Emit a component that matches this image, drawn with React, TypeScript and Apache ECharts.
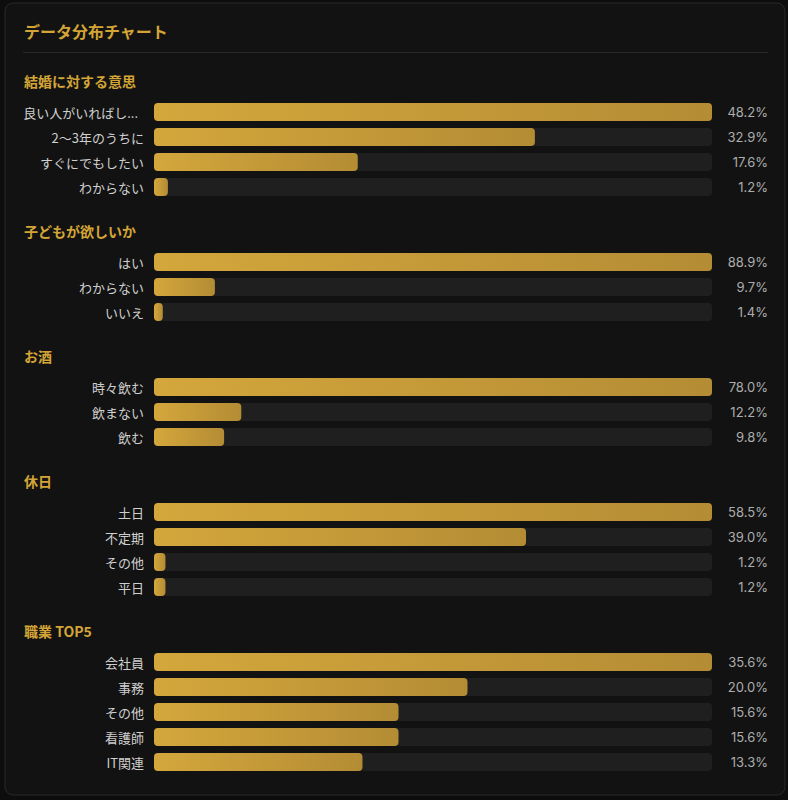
import React, { useEffect, useRef } from "react";
import * as echarts from "echarts";

const chartTitle = "データ分布チャート";

const sectionTitles = ["結婚に対する意思", "子どもが欲しいか", "お酒", "休日", "職業 TOP5"];

const marriageLabels = ["良い人がいればし...", "2〜3年のうちに", "すぐにでもしたい", "わからない"];
const marriageValues = [48.2, 32.9, 17.6, 1.2];

const childLabels = ["はい", "わからない", "いいえ"];
const childValues = [88.9, 9.7, 1.4];

const alcoholLabels = ["時々飲む", "飲まない", "飲む"];
const alcoholValues = [78.0, 12.2, 9.8];

const holidayLabels = ["土日", "不定期", "その他", "平日"];
const holidayValues = [58.5, 39.0, 1.2, 1.2];

const jobLabels = ["会社員", "事務", "その他", "看護師", "IT関連"];
const jobValues = [35.6, 20.0, 15.6, 15.6, 13.3];

const sectionLabels = [marriageLabels, childLabels, alcoholLabels, holidayLabels, jobLabels];
const sectionValues = [marriageValues, childValues, alcoholValues, holidayValues, jobValues];

const GOLD = "#d4a536";
const FONT = '"Noto Sans CJK JP", "Noto Sans", sans-serif';
const NUM_FONT = 'Inter, "Noto Sans", sans-serif';

export default function App() {
  const ref = useRef<HTMLDivElement>(null);

  useEffect(() => {
    if (!ref.current) return;
    document.body.style.margin = "0";
    document.body.style.background = "#0d0d0d";
    const chart = echarts.init(ref.current, null, { renderer: "svg" });

    const ROW = 25;
    const grids: any[] = [];
    const xAxes: any[] = [];
    const yAxes: any[] = [];
    const series: any[] = [];
    const graphics: any[] = [
      {
        type: "rect",
        shape: { x: 5, y: 3, width: 780, height: 792, r: 8 },
        style: { fill: "#121212", stroke: "#292929", lineWidth: 1 },
        z: -10,
      },
      {
        type: "text",
        x: 24,
        y: 31,
        style: {
          text: chartTitle,
          fill: GOLD,
          font: `bold 16px ${FONT}`,
          textVerticalAlign: "middle",
        },
      },
      {
        type: "line",
        shape: { x1: 23, y1: 52.5, x2: 768, y2: 52.5 },
        style: { stroke: "#2a2a2a", lineWidth: 1 },
      },
    ];

    let center = 112;
    sectionTitles.forEach((title, i) => {
      const labels = sectionLabels[i];
      const values = sectionValues[i];
      const n = labels.length;
      graphics.push({
        type: "text",
        x: 24,
        y: center - 31,
        style: {
          text: title,
          fill: GOLD,
          font: `bold 14px ${FONT}`,
          textVerticalAlign: "middle",
        },
      });
      grids.push({
        left: 154,
        width: 558,
        top: center - ROW / 2,
        height: ROW * n,
        containLabel: false,
      });
      xAxes.push({
        type: "value",
        gridIndex: i,
        min: 0,
        max: Math.max(...values),
        show: false,
      });
      yAxes.push({
        type: "category",
        gridIndex: i,
        data: labels,
        inverse: true,
        axisLine: { show: false },
        axisTick: { show: false },
        splitLine: { show: false },
        axisLabel: {
          margin: 10,
          color: "#cfcfcf",
          fontSize: 13,
          fontFamily: FONT,
          formatter: (v: string) => (v.endsWith("...") ? `{t|${v}}` : v),
          rich: {
            t: { padding: [0, 6, 0, 0], color: "#cfcfcf", fontSize: 13, fontFamily: FONT },
          },
        },
      });
      yAxes.push({
        type: "category",
        gridIndex: i,
        position: "right",
        data: values.map((v) => v.toFixed(1) + "%"),
        inverse: true,
        axisLine: { show: false },
        axisTick: { show: false },
        splitLine: { show: false },
        axisLabel: {
          margin: 56,
          align: "right",
          color: "#adadad",
          fontSize: 13,
          fontFamily: NUM_FONT,
        },
      });
      series.push({
        type: "bar",
        xAxisIndex: i,
        yAxisIndex: i * 2,
        data: values,
        barWidth: 18,
        showBackground: true,
        backgroundStyle: { color: "#1f1f1f", borderRadius: 4 },
        itemStyle: {
          borderRadius: 4,
          color: new echarts.graphic.LinearGradient(0, 0, 1, 0, [
            { offset: 0, color: "#d4a73c" },
            { offset: 1, color: "#b48c34" },
          ]),
        },
        silent: true,
      });
      center += ROW * (n - 1) + 75;
    });

    chart.setOption({
      animation: false,
      backgroundColor: "#0d0d0d",
      textStyle: { fontFamily: FONT },
      grid: grids,
      xAxis: xAxes,
      yAxis: yAxes,
      series,
      graphic: graphics,
    });

    return () => chart.dispose();
  }, []);

  return (
    <div
      ref={ref}
      style={{ position: "fixed", left: 0, top: 0, width: 788, height: 800 }}
    />
  );
}
